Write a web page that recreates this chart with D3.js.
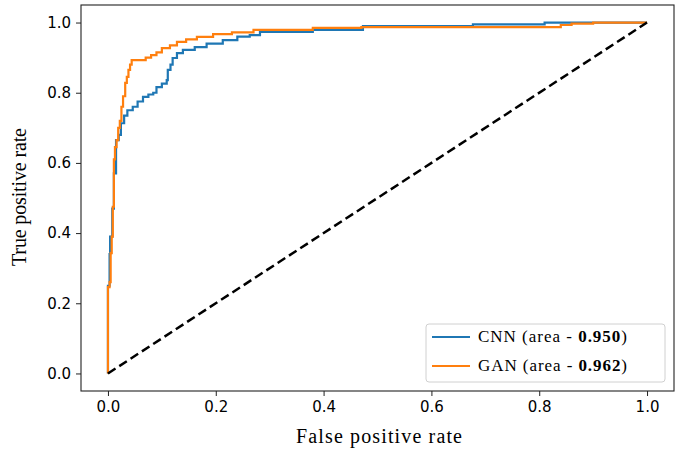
<!DOCTYPE html>
<html>
<head>
<meta charset="utf-8">
<script src="https://cdn.jsdelivr.net/npm/d3@7"></script>
<style>
  body { margin: 0; background: #fff; }
  .tick text { font-family: "DejaVu Sans", sans-serif; font-size: 15px; fill: #000; }
  .lbl { font-family: "Liberation Serif", serif; font-size: 20px; fill: #000; }
  .leg { font-family: "Liberation Serif", serif; font-size: 17px; fill: #000; }
</style>
</head>
<body>
<div id="chart"></div>
<script>
// ROC corner points
var cnnFpr = [0, 0, 0.003, 0.003, 0.004, 0.004, 0.008, 0.008, 0.011, 0.011, 0.015, 0.015, 0.02, 0.02, 0.024, 0.024,
  0.03, 0.03, 0.036, 0.036, 0.046, 0.046, 0.055, 0.055, 0.065, 0.065, 0.075, 0.075, 0.084, 0.084, 0.09, 0.09,
  0.1, 0.1, 0.109, 0.109, 0.111, 0.111, 0.116, 0.116, 0.12, 0.12, 0.128, 0.128, 0.139, 0.139, 0.161, 0.161,
  0.183, 0.183, 0.213, 0.213, 0.24, 0.24, 0.263, 0.263, 0.282, 0.282, 0.38, 0.38, 0.473, 0.473, 0.677, 0.677,
  0.81, 0.81, 1];
var cnnTpr = [0, 0.25, 0.25, 0.34, 0.34, 0.39, 0.39, 0.47, 0.47, 0.57, 0.57, 0.665, 0.665, 0.68, 0.68, 0.713,
  0.713, 0.735, 0.735, 0.75, 0.75, 0.76, 0.76, 0.775, 0.775, 0.788, 0.788, 0.795, 0.795, 0.80, 0.80, 0.816,
  0.816, 0.826, 0.826, 0.836, 0.836, 0.865, 0.865, 0.88, 0.88, 0.899, 0.899, 0.913, 0.913, 0.922, 0.922, 0.93,
  0.93, 0.94, 0.94, 0.95, 0.95, 0.96, 0.96, 0.964, 0.964, 0.973, 0.973, 0.979, 0.979, 0.99, 0.99, 0.995,
  0.995, 1.0, 1.0];

var ganFpr = [0, 0, 0.003, 0.003, 0.005, 0.005, 0.007, 0.007, 0.009, 0.009, 0.011, 0.011, 0.013, 0.013, 0.016, 0.016,
  0.019, 0.019, 0.022, 0.022, 0.025, 0.025, 0.028, 0.028, 0.032, 0.032, 0.035, 0.035, 0.038, 0.038, 0.041, 0.041,
  0.044, 0.044, 0.07, 0.07, 0.08, 0.08, 0.09, 0.09, 0.1, 0.1, 0.115, 0.115, 0.128, 0.128, 0.145, 0.145,
  0.165, 0.165, 0.195, 0.195, 0.23, 0.23, 0.27, 0.27, 0.38, 0.38, 0.47, 0.47, 0.84, 0.84, 0.86, 0.86,
  0.9, 0.9, 1];
var ganTpr = [0, 0.246, 0.246, 0.26, 0.26, 0.343, 0.343, 0.39, 0.39, 0.475, 0.475, 0.61, 0.61, 0.645, 0.645, 0.665,
  0.665, 0.70, 0.70, 0.72, 0.72, 0.76, 0.76, 0.79, 0.79, 0.828, 0.828, 0.845, 0.845, 0.865, 0.865, 0.88,
  0.88, 0.893, 0.893, 0.9, 0.9, 0.907, 0.907, 0.915, 0.915, 0.927, 0.927, 0.935, 0.935, 0.945, 0.945, 0.952,
  0.952, 0.959, 0.959, 0.967, 0.967, 0.972, 0.972, 0.979, 0.979, 0.985, 0.985, 0.987, 0.987, 0.993, 0.993, 0.997,
  0.997, 1.0, 1.0];

var seriesNames = ["CNN", "GAN"];
var seriesAreas = ["0.950", "0.962"];
var seriesColors = ["#1f77b4", "#ff7f0e"];
var xTicks = [0, 0.2, 0.4, 0.6, 0.8, 1.0];
var yTicks = [0, 0.2, 0.4, 0.6, 0.8, 1.0];

var W = 683, H = 451;
var margin = {top: 5, right: 9, bottom: 60, left: 81},
    width = W - margin.left - margin.right,
    height = H - margin.top - margin.bottom;

var x = d3.scaleLinear().domain([-0.05, 1.05]).range([0, width]);
var y = d3.scaleLinear().domain([-0.05, 1.05]).range([height, 0]);

var svg = d3.select("#chart").append("svg")
    .attr("width", W).attr("height", H);
var g = svg.append("g").attr("transform", "translate(" + margin.left + "," + margin.top + ")");

var valueline = d3.line()
    .x(function(d) { return x(d[0]); })
    .y(function(d) { return y(d[1]); });

var curves = [d3.zip(cnnFpr, cnnTpr), d3.zip(ganFpr, ganTpr)];
curves.forEach(function(c, i) {
  g.append("path").datum(c)
    .attr("d", valueline)
    .attr("fill", "none")
    .attr("stroke", seriesColors[i])
    .attr("stroke-width", 2.2)
    .attr("stroke-linejoin", "miter");
});

// chance line
g.append("path").datum([[0, 0], [1, 1]])
  .attr("d", valueline)
  .attr("fill", "none")
  .attr("stroke", "#000")
  .attr("stroke-width", 2.5)
  .attr("stroke-dasharray", "9,4.5");

// frame
g.append("rect").attr("width", width).attr("height", height)
  .attr("fill", "none").attr("stroke", "#222").attr("stroke-width", 1.1);

var xAxis = d3.axisBottom(x).tickValues(xTicks).tickFormat(d3.format(".1f")).tickSize(5).tickPadding(5);
var yAxis = d3.axisLeft(y).tickValues(yTicks).tickFormat(d3.format(".1f")).tickSize(5).tickPadding(5);

g.append("g").attr("transform", "translate(0," + height + ")").call(xAxis)
  .call(function(s) { s.select(".domain").remove(); s.selectAll("line").attr("stroke", "#222"); });
g.append("g").call(yAxis)
  .call(function(s) { s.select(".domain").remove(); s.selectAll("line").attr("stroke", "#222"); });

svg.append("text").attr("class", "lbl")
  .attr("x", 379).attr("y", 443)
  .attr("text-anchor", "middle")
  .attr("textLength", 166).attr("lengthAdjust", "spacing")
  .text("False positive rate");
svg.append("text").attr("class", "lbl")
  .attr("transform", "translate(26,197) rotate(-90)")
  .attr("text-anchor", "middle")
  .attr("textLength", 138).attr("lengthAdjust", "spacing")
  .text("True positive rate");

// legend
var leg = svg.append("g").attr("transform", "translate(426,324)");
leg.append("rect").attr("width", 239).attr("height", 58).attr("rx", 3)
  .attr("fill", "#fff").attr("fill-opacity", 0.8)
  .attr("stroke", "#d0d0d0").attr("stroke-width", 1);
seriesNames.forEach(function(name, i) {
  var yy = 13 + i * 29;
  leg.append("line").attr("x1", 6).attr("x2", 44).attr("y1", yy).attr("y2", yy)
    .attr("stroke", seriesColors[i]).attr("stroke-width", 2.2);
  var t = leg.append("text").attr("class", "leg").attr("x", 52).attr("y", yy + 5)
    .attr("textLength", 149).attr("lengthAdjust", "spacing");
  t.append("tspan").text(name + " (area - ");
  t.append("tspan").attr("font-weight", "bold").text(seriesAreas[i]);
  t.append("tspan").text(")");
});
</script>
</body>
</html>
